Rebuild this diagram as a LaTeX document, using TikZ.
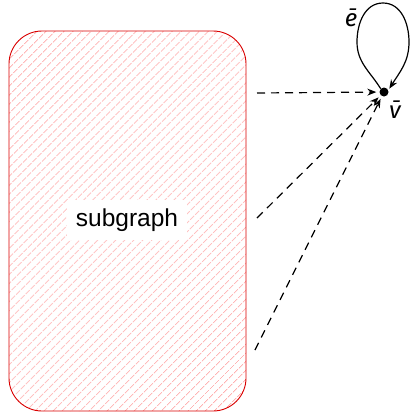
\documentclass[tikz,border=0pt]{standalone}
\usepackage{fontspec}
\setsansfont{Liberation Sans}
\newfontfamily\lblfont{Fira Sans}
\usetikzlibrary{patterns.meta,arrows.meta}
\tikzset{
  subbox/.style={draw=red!85!black, line width=0.9pt, rounded corners=33pt,
    pattern={Lines[angle=45,distance=6.5pt,line width=0.9pt]}, pattern color=red!32},
  dashedarrow/.style={dashed, dash pattern=on 8pt off 6pt, line width=1.2pt,
    -{Stealth[length=9pt,width=7pt,inset=3pt]}, shorten >=3pt},
  loopedge/.style={line width=1.2pt, -{Stealth[length=9pt,width=7pt,inset=3pt]}},
  vdot/.style={circle, fill=black, inner sep=0pt, minimum size=9pt},
  lbl/.style={font=\lblfont\itshape\fontsize{24}{27}\selectfont, inner sep=0pt}
}
\begin{document}
\begin{tikzpicture}[x=1pt,y=-1pt]
\useasboundingbox (0,0) rectangle (415,413);
\draw[subbox] (9,31) rectangle (246,411);
\node[fill=white, font=\sffamily\fontsize{24.5}{26}\selectfont, minimum width=120pt, minimum height=40pt, inner sep=0pt] (sub) at (127,220) {subgraph};
\node[vdot] (v) at (384,92) {};
\coordinate (s1) at (257,93);
\coordinate (s2) at (257,218);
\coordinate (s3) at (255,350);
\coordinate (lw) at (357,42);
\coordinate (lt) at (383,3);
\coordinate (le) at (409,42);
\draw[dashedarrow] (s1) -- (v);
\draw[dashedarrow] (s2) -- (v);
\draw[dashedarrow] (s3) -- (v);
\draw[loopedge] (v.north west) to[out=122,in=-90] (lw) to[out=90,in=180] (lt)
  to[out=0,in=90] (le) to[out=-90,in=58] ([xshift=2pt]v.north east);
\node[lbl] (e) at (351,18) {\=e};
\node[lbl] (vl) at (395,110) {\=v};
\end{tikzpicture}
\end{document}
